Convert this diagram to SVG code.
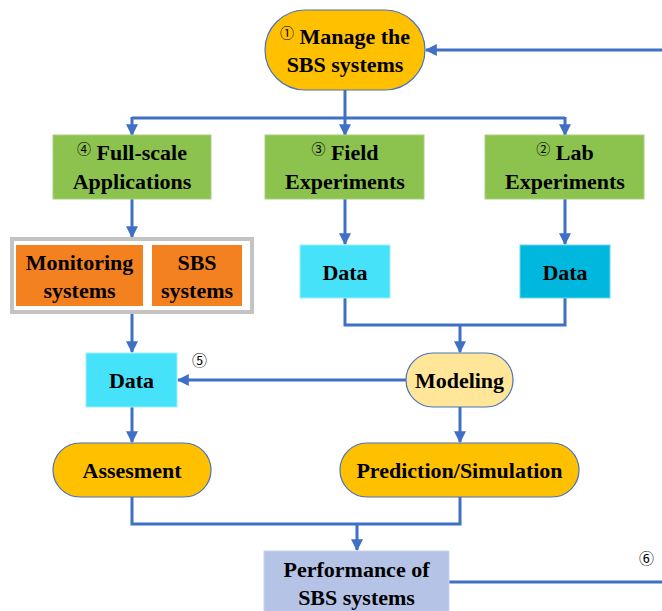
<svg xmlns="http://www.w3.org/2000/svg" width="662" height="611" viewBox="0 0 662 611">
<defs>
<style>
.t{font-family:"Liberation Serif","DejaVu Serif",serif;font-weight:bold;font-size:22px;fill:#000;text-anchor:middle}
.c{font-family:"Noto Sans CJK SC",sans-serif;font-weight:normal;font-size:14px}
.n{font-family:"Noto Sans CJK SC",sans-serif;font-size:15px;fill:#000}
.ln{fill:none;stroke:#3F70C6;stroke-width:3}
.pill{fill:#FFC000;stroke:#4A73B8;stroke-width:1.2}
.green{fill:#8CC24E;stroke:#A9CF80;stroke-width:1}
.cyan{fill:#45E2FA;stroke:#9BEFFC;stroke-width:1}
.org{fill:#F48120}
</style>
<marker id="ah" viewBox="0 0 10 10" refX="9" refY="5" markerWidth="4" markerHeight="4" orient="auto" markerUnits="strokeWidth">
<path d="M0,0 L10,5 L0,10 z" fill="#3F70C6"/>
</marker>
</defs>
<rect width="662" height="611" fill="#fff"/>
<g id="connectors">
<path class="ln" d="M662,50 H426" marker-end="url(#ah)"/>
<path class="ln" d="M345,90 V118 M132,118 H565"/>
<path class="ln" d="M132,117 V135" marker-end="url(#ah)"/>
<path class="ln" d="M345,117 V135" marker-end="url(#ah)"/>
<path class="ln" d="M565,117 V135" marker-end="url(#ah)"/>
<path class="ln" d="M132,199 V237" marker-end="url(#ah)"/>
<path class="ln" d="M345,199 V244" marker-end="url(#ah)"/>
<path class="ln" d="M565,199 V244" marker-end="url(#ah)"/>
<path class="ln" d="M345,298 V325 H565 V298"/>
<path class="ln" d="M460,325 V352" marker-end="url(#ah)"/>
<path class="ln" d="M132,313 V352" marker-end="url(#ah)"/>
<path class="ln" d="M406,380 H178" marker-end="url(#ah)"/>
<path class="ln" d="M132,407 V442" marker-end="url(#ah)"/>
<path class="ln" d="M460,407 V442" marker-end="url(#ah)"/>
<path class="ln" d="M132,497 V524 H460 V497"/>
<path class="ln" d="M357,524 V550" marker-end="url(#ah)"/>
<path class="ln" d="M449,582 H662"/>
</g>
<g id="manage">
<rect class="pill" x="265" y="10" width="160" height="80" rx="40"/>
<text class="t" x="345" y="44"><tspan class="c" dy="-6">①</tspan><tspan dy="6"> Manage the</tspan></text>
<text class="t" x="345" y="72">SBS systems</text>
</g>
<g id="fullscale">
<rect class="green" x="53" y="135" width="158" height="64"/>
<text class="t" x="132" y="160"><tspan class="c" dy="-6">④</tspan><tspan dy="6"> Full-scale</tspan></text>
<text class="t" x="132" y="189">Applications</text>
</g>
<g id="field">
<rect class="green" x="265" y="135" width="159" height="64"/>
<text class="t" x="345" y="160"><tspan class="c" dy="-6">③</tspan><tspan dy="6"> Field</tspan></text>
<text class="t" x="345" y="189">Experiments</text>
</g>
<g id="lab">
<rect class="green" x="485" y="135" width="159" height="64"/>
<text class="t" x="565" y="160"><tspan class="c" dy="-6">②</tspan><tspan dy="6"> Lab</tspan></text>
<text class="t" x="565" y="189">Experiments</text>
</g>
<g id="container">
<rect x="12" y="239" width="240" height="73" fill="#fff" stroke="#C3C3C3" stroke-width="4"/>
</g>
<g id="monitoring">
<rect class="org" x="16" y="245" width="127" height="61"/>
<text class="t" x="79.5" y="270">Monitoring</text>
<text class="t" x="79.5" y="298">systems</text>
</g>
<g id="sbs">
<rect class="org" x="152" y="245" width="90" height="61"/>
<text class="t" x="197" y="270">SBS</text>
<text class="t" x="197" y="298">systems</text>
</g>
<g id="data-field">
<rect class="cyan" x="300" y="245" width="90" height="53"/>
<text class="t" x="345" y="280">Data</text>
</g>
<g id="data-lab">
<rect x="520" y="245" width="90" height="53" fill="#00B8DE" stroke="#6FD6EE" stroke-width="1"/>
<text class="t" x="565" y="280">Data</text>
</g>
<g id="data-full">
<rect class="cyan" x="86" y="353" width="91" height="54"/>
<text class="t" x="131.5" y="388">Data</text>
<text class="n" x="192" y="366">⑤</text>
</g>
<g id="modeling">
<rect x="406" y="353" width="107" height="54" rx="27" fill="#FFE699" stroke="#4A73B8" stroke-width="1.2"/>
<text class="t" x="459.5" y="388">Modeling</text>
</g>
<g id="assesment">
<rect class="pill" x="53" y="443" width="158" height="54" rx="27"/>
<text class="t" x="132" y="478">Assesment</text>
</g>
<g id="prediction">
<rect class="pill" x="340" y="443" width="239" height="54" rx="27"/>
<text class="t" x="459.5" y="478">Prediction/Simulation</text>
</g>
<g id="performance">
<rect x="264" y="551" width="185" height="70" fill="#B4C3E6" stroke="#C9D4EE" stroke-width="1"/>
<text class="t" x="356.5" y="577">Performance of</text>
<text class="t" x="356.5" y="605">SBS systems</text>
<text class="n" x="639" y="564">⑥</text>
</g>
</svg>
